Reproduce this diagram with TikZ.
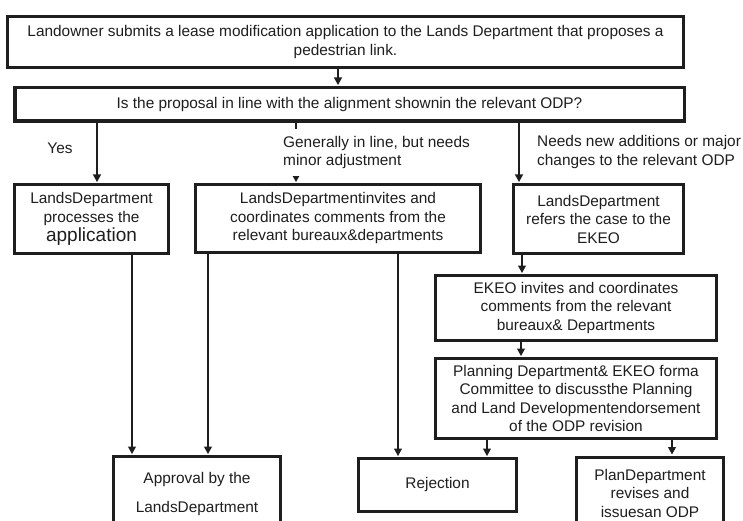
\documentclass[tikz,border=0pt]{standalone}
\usepackage{fontspec}
\setmainfont{Liberation Sans}
\usetikzlibrary{arrows.meta}
\definecolor{ink}{HTML}{1E1E1E}
\begin{document}
\begin{tikzpicture}[x=1pt,y=-1pt,
  txt/.style={font=\fontsize{15.4}{18.5}\selectfont, text=ink},
  box/.style={txt, draw=ink, line width=3pt, rectangle, align=center, inner sep=0pt, fill=white},
  arr/.style={draw=ink, line width=1.1pt, -{Triangle[width=8pt,length=7.5pt]}, shorten >=1pt},
  lbl/.style={txt, align=left, inner sep=0pt}
]
\useasboundingbox (0,0) rectangle (743,521);
\fill[white] (0,0) rectangle (743,521);

\node[box, minimum width=676pt, minimum height=51pt] (b1) at (345.5,42)
  {Landowner submits a lease modification application to the Lands Department that proposes a\\pedestrian link.};
\node[box, line width=3.5pt, minimum width=669.5pt, minimum height=33.5pt] (b2) at (349.5,104.5)
  {Is the proposal in line with the alignment shownin the relevant ODP?};
\node[box, minimum width=154pt, minimum height=69pt] (b3) at (91.5,219)
  {LandsDepartment\\processes the\\[1pt]{\fontsize{19}{19}\selectfont application}};
\node[box, minimum width=285pt, minimum height=68pt] (b4) at (338,218.5)
  {LandsDepartmentinvites and\\coordinates comments from the\\relevant bureaux\&departments};
\node[box, minimum width=170pt, minimum height=69pt] (b5) at (598.5,219)
  {LandsDepartment\\refers the case to the\\EKEO};
\node[box, minimum width=281pt, minimum height=65pt] (b6) at (576,308)
  {EKEO invites and coordinates\\comments from the relevant\\bureaux\& Departments};
\node[box, minimum width=281pt, minimum height=80pt] (b7) at (576,398.5)
  {Planning Department\& EKEO forma\\Committee to discussthe Planning\\and Land Developmentendorsement\\of the ODP revision};
\node[box, font=\fontsize{15.4}{29}\selectfont, minimum width=167pt, minimum height=75pt] (b8) at (197,494)
  {Approval by the\\LandsDepartment};
\node[box, minimum width=158pt, minimum height=53pt] (b9) at (437.5,485)
  {Rejection};
\node[box, minimum width=147pt, minimum height=72pt] (b10) at (650,493)
  {PlanDepartment\\revises and\\issuesan ODP};

\coordinate (xa) at (338,0);
\coordinate (xyes) at (97,0);
\coordinate (xmid) at (296,0);
\coordinate (xright) at (519,0);
\coordinate (xp) at (132,0);
\coordinate (xq) at (208,0);
\coordinate (xr) at (398,0);
\coordinate (xe) at (522,0);
\coordinate (xf) at (521,0);
\coordinate (xg) at (487,0);
\coordinate (xh) at (672,0);

\draw[arr] (b1.south -| xa) -- (b2.north -| xa);
\draw[arr] (b2.south -| xyes) -- (b3.north -| xyes);
\draw[arr] (b2.south -| xmid) -- (b4.north -| xmid);
\draw[arr] (b2.south -| xright) -- (b5.north -| xright);
\draw[arr] (b3.south -| xp) -- (b8.north -| xp);
\draw[arr] (b4.south -| xq) -- (b8.north -| xq);
\draw[arr] (b4.south -| xr) -- (b9.north -| xr);
\draw[arr] (b5.south -| xe) -- (b6.north -| xe);
\draw[arr] (b6.south -| xf) -- (b7.north -| xf);
\draw[arr] (b7.south -| xg) -- (b9.north -| xg);
\draw[arr] (b7.south -| xh) -- (b10.north -| xh);

\node[lbl] (yes) at (60,148) {Yes};
\node[lbl, anchor=west, fill=white, inner ysep=7pt, inner xsep=2pt] (lmid) at (281,152.5)
  {Generally in line, but needs\\minor adjustment};
\node[lbl, anchor=west] (lright) at (537,152)
  {Needs new additions or major\\changes to the relevant ODP};
\end{tikzpicture}
\end{document}
